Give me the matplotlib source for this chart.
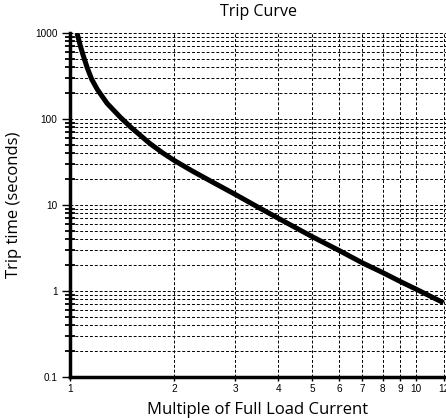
import matplotlib
matplotlib.use("Agg")
import matplotlib.pyplot as plt
import matplotlib.ticker as ticker

# trip curve points
multiple = [1.048, 1.07, 1.09, 1.12, 1.155, 1.2, 1.28, 1.4, 1.5, 1.7, 1.85, 2.0,
            2.25, 2.5, 3.0, 3.5, 4.0, 5.0, 6.0, 7.0, 8.0, 9.0, 10.0, 12.0]
trip_time = [1000, 720, 560, 400, 290, 220, 152, 104, 80, 52, 40.5, 33,
             25, 19.8, 13.3, 9.4, 7.0, 4.3, 2.95, 2.12, 1.64, 1.29, 1.05, 0.73]

x_ticks = [1, 2, 3, 4, 5, 6, 7, 8, 9, 10, 12]
y_ticks = [0.1, 1, 10, 100, 1000]
y_labels = ["0.1", "1", "10", "100", "1000"]

fig = plt.figure(figsize=(4.46, 4.18), dpi=100)
ax = fig.add_axes([70 / 446, 1 - 377 / 418, 376 / 446, (377 - 33) / 418])

ax.set_xscale("log")
ax.set_yscale("log")
ax.set_xlim(1, 12.2)
ax.set_ylim(0.1, 1000)

ax.plot(multiple, trip_time, color="black", lw=3.6, solid_capstyle="butt",
        solid_joinstyle="round", zorder=3)

# dashed grid: every log step horizontally, each tick vertically
minor_y = [m * 10.0 ** e for e in range(-1, 3) for m in range(2, 10)]
for v in minor_y + [1, 10, 100, 1000]:
    ax.axhline(v, color="black", lw=0.7, ls=(0, (3, 2)), zorder=1)
for v in x_ticks[1:]:
    ax.axvline(v, color="black", lw=0.7, ls=(0, (3, 2)), zorder=1)

ax.xaxis.set_major_locator(ticker.FixedLocator(x_ticks))
ax.xaxis.set_major_formatter(ticker.FixedFormatter([str(v) for v in x_ticks]))
ax.xaxis.set_minor_locator(ticker.NullLocator())
ax.yaxis.set_major_locator(ticker.FixedLocator(y_ticks))
ax.yaxis.set_major_formatter(ticker.FixedFormatter(y_labels))
ax.yaxis.set_minor_locator(ticker.FixedLocator(minor_y))
ax.yaxis.set_minor_formatter(ticker.NullFormatter())

ax.tick_params(axis="both", which="major", labelsize=7.2, width=1, colors="black")
ax.tick_params(axis="y", which="major", length=6, pad=3)
ax.tick_params(axis="x", which="major", length=3, pad=2)
ax.tick_params(axis="y", which="minor", direction="inout", length=6.5, width=1.3)
for lab in ax.get_xticklabels() + ax.get_yticklabels():
    lab.set_family("Liberation Sans")

for s in ["top", "right"]:
    ax.spines[s].set_visible(False)
ax.spines["left"].set_linewidth(2.5)
ax.spines["bottom"].set_linewidth(2.5)

ax.set_title("Trip Curve", fontsize=11.5, family="Open Sans", pad=12)
ax.set_xlabel("Multiple of Full Load Current", fontsize=12, family="Open Sans", labelpad=6)
ax.set_ylabel("Trip time (seconds)", fontsize=12, family="Open Sans", labelpad=9)

fig.savefig("out.png", dpi=100)
